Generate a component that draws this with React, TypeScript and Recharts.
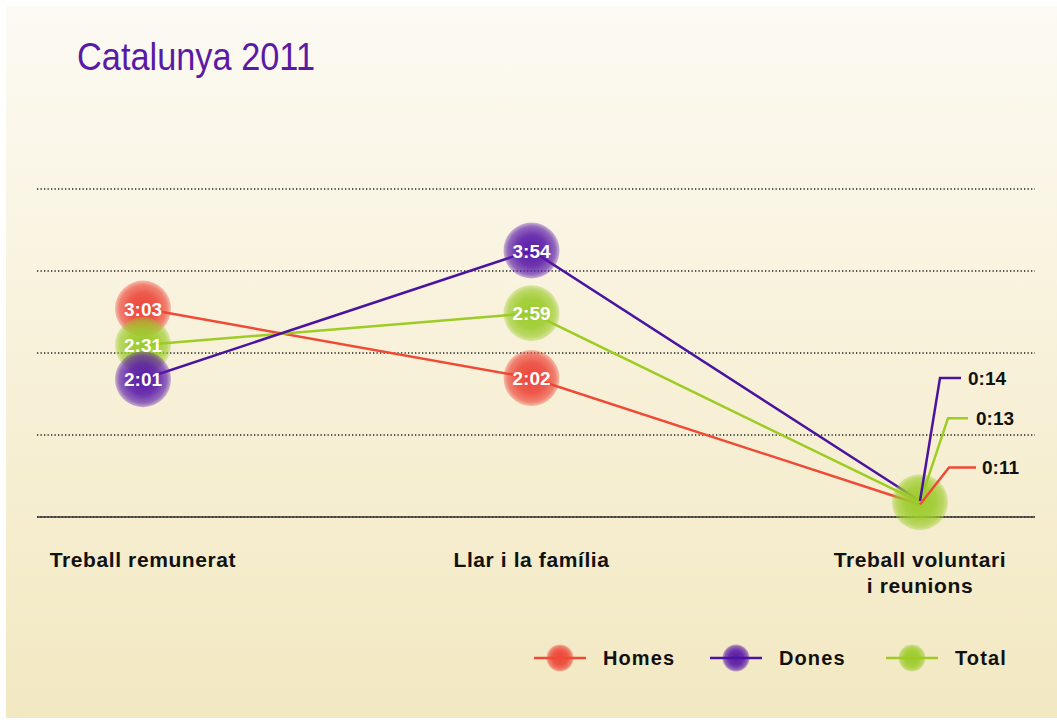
import React from 'react';
import { LineChart, Line, XAxis, YAxis, CartesianGrid, LabelList, Legend } from 'recharts';

const CATEGORIES = ['Treball remunerat', 'Llar i la família', 'Treball voluntari\ni reunions'];
const HOMES = [183, 122, 11];
const DONES = [121, 234, 14];
const TOTAL = [151, 179, 13];
const Y_TICKS = [0, 72, 144, 216, 288];
const SERIES_NAMES = ['Homes', 'Dones', 'Total'];
const TITLE = 'Catalunya 2011';

const COLORS: Record<string, string> = { homes: '#ec4538', dones: '#5a1aa8', total: '#9ccb2b' };
const LINE_COLORS: Record<string, string> = { homes: '#f04a37', dones: '#4b14a0', total: '#9dcc24' };
const LEADER: Record<string, { ey: number; ex: number; hx: number; tx: number }> = {
  dones: { ey: -123, ex: 20, hx: 41, tx: 48 },
  total: { ey: -84, ex: 28, hx: 48, tx: 56 },
  homes: { ey: -37, ex: 29, hx: 56, tx: 62 },
};

const data = CATEGORIES.map((cat, i) => ({ cat, homes: HOMES[i], dones: DONES[i], total: TOTAL[i] }));

const fmt = (m: number) => `${Math.floor(m / 60)}:${String(m % 60).padStart(2, '0')}`;
const FONT = '"Liberation Sans", Arial, Helvetica, sans-serif';

const bubble = (key: string, showLast: boolean) => (props: any) => {
  const { cx, cy, index } = props;
  if (cx == null || cy == null || (!showLast && index === 2)) return <g key={`b-${key}-${index}`} />;
  return <circle key={`b-${key}-${index}`} cx={cx} cy={cy} r={28} fill={`url(#grad-${key})`} />;
};

const labelRenderer = (key: string) => (props: any) => {
  const { x, y, value, index } = props;
  if (x == null || y == null) return null;
  if (index === 2) {
    const l = LEADER[key];
    return (
      <g key={`l-${key}-${index}`}>
        <polyline
          points={`${x},${y} ${x + l.ex},${y + l.ey} ${x + l.hx},${y + l.ey}`}
          fill="none"
          stroke={LINE_COLORS[key]}
          strokeWidth={2.5}
        />
        <text x={x + l.tx} y={y + l.ey + 7} fontFamily={FONT} fontWeight="bold" fontSize={19} fill="#111">
          {fmt(value)}
        </text>
      </g>
    );
  }
  return (
    <text key={`l-${key}-${index}`} x={x} y={y + 7} textAnchor="middle" fontFamily={FONT} fontWeight="bold" fontSize={19} fill="#fff">
      {fmt(value)}
    </text>
  );
};

const renderTick = (props: any) => {
  const { x, y, payload } = props;
  const lines = String(payload.value).split('\n');
  return (
    <text x={x} y={y + 42} textAnchor="middle" fontFamily={FONT} fontWeight="bold" fontSize={21} fill="#111" letterSpacing={0.6}>
      {lines.map((ln, i) => (
        <tspan key={i} x={x} dy={i === 0 ? 0 : 26}>
          {ln}
        </tspan>
      ))}
    </text>
  );
};

const LEGEND_KEYS = ['homes', 'dones', 'total'];

const renderLegend = () => (
  <svg width={500} height={40}>
    <defs>
      {LEGEND_KEYS.map((k) => (
        <radialGradient key={k} id={`lg-${k}`} cx="50%" cy="50%" r="50%">
          <stop offset="0%" stopColor={COLORS[k]} stopOpacity={1} />
          <stop offset="55%" stopColor={COLORS[k]} stopOpacity={0.9} />
          <stop offset="85%" stopColor={COLORS[k]} stopOpacity={0.65} />
          <stop offset="100%" stopColor={COLORS[k]} stopOpacity={0.3} />
        </radialGradient>
      ))}
    </defs>
    {LEGEND_KEYS.map((k, i) => {
      const ox = 4 + i * 176;
      return (
        <g key={k}>
          <circle cx={ox + 26} cy={20} r={13.5} fill={`url(#lg-${k})`} />
          <line x1={ox} y1={20} x2={ox + 52} y2={20} stroke={LINE_COLORS[k]} strokeWidth={2.5} />
          <text x={ox + 69} y={27} fontFamily={FONT} fontWeight="bold" fontSize={20} letterSpacing={1.1} fill="#111">
            {SERIES_NAMES[i]}
          </text>
        </g>
      );
    })}
  </svg>
);

export default function App() {
  return (
    <div style={{ position: 'absolute', left: 0, top: 0, width: 1057, height: 720, background: '#fff' }}>
      <svg width={1057} height={720} style={{ position: 'absolute', left: 0, top: 0 }}>
        <defs>
          <linearGradient id="bg" x1="0" y1="0" x2="0" y2="1">
            <stop offset="0%" stopColor="#fcfaf3" />
            <stop offset="50%" stopColor="#f8f1d9" />
            <stop offset="100%" stopColor="#f2e8c2" />
          </linearGradient>
        </defs>
        <rect x={6} y={6} width={1051} height={712} fill="url(#bg)" />
        <text x={77} y={70} fontFamily={FONT} fontSize={38} fill="#5a1aa6" textLength={238} lengthAdjust="spacingAndGlyphs">
          {TITLE}
        </text>
      </svg>
      <div style={{ position: 'absolute', left: 0, top: 0 }}>
        <LineChart width={1057} height={720} data={data} margin={{ top: 189, right: 22, bottom: 143, left: 37 }}>
          <defs>
            {LEGEND_KEYS.map((k) => (
              <radialGradient key={k} id={`grad-${k}`} cx="50%" cy="50%" r="50%">
                <stop offset="0%" stopColor={COLORS[k]} stopOpacity={1} />
                <stop offset="55%" stopColor={COLORS[k]} stopOpacity={0.88} />
                <stop offset="85%" stopColor={COLORS[k]} stopOpacity={0.65} />
                <stop offset="100%" stopColor={COLORS[k]} stopOpacity={0.3} />
              </radialGradient>
            ))}
          </defs>
          <CartesianGrid vertical={false} stroke="#222" strokeWidth={1.3} strokeDasharray="1.3 2.2" />
          <XAxis
            dataKey="cat"
            height={60}
            padding={{ left: 106, right: 115 }}
            axisLine={{ stroke: '#333', strokeWidth: 1.5 }}
            tickLine={false}
            tick={renderTick}
            interval={0}
          />
          <YAxis hide domain={[0, 288]} ticks={Y_TICKS} />
          <Line dataKey="homes" stroke="none" dot={bubble('homes', false)} activeDot={false} legendType="none" isAnimationActive={false} />
          <Line dataKey="total" stroke="none" dot={bubble('total', true)} activeDot={false} legendType="none" isAnimationActive={false} />
          <Line dataKey="dones" stroke="none" dot={bubble('dones', false)} activeDot={false} legendType="none" isAnimationActive={false} />
          <Line dataKey="homes" name="Homes" stroke={LINE_COLORS.homes} strokeWidth={2.5} dot={false} activeDot={false} isAnimationActive={false} />
          <Line dataKey="total" name="Total" stroke={LINE_COLORS.total} strokeWidth={2.5} dot={false} activeDot={false} isAnimationActive={false} />
          <Line dataKey="dones" name="Dones" stroke={LINE_COLORS.dones} strokeWidth={2.5} dot={false} activeDot={false} isAnimationActive={false} />
          <Line dataKey="homes" stroke="none" dot={false} activeDot={false} legendType="none" isAnimationActive={false}>
            <LabelList dataKey="homes" content={labelRenderer('homes')} />
          </Line>
          <Line dataKey="total" stroke="none" dot={false} activeDot={false} legendType="none" isAnimationActive={false}>
            <LabelList dataKey="total" content={labelRenderer('total')} />
          </Line>
          <Line dataKey="dones" stroke="none" dot={false} activeDot={false} legendType="none" isAnimationActive={false}>
            <LabelList dataKey="dones" content={labelRenderer('dones')} />
          </Line>
          <Legend
            layout="horizontal"
            verticalAlign="middle"
            align="center"
            content={renderLegend}
            wrapperStyle={{ left: 530, top: 638, width: 500, height: 40 }}
          />
        </LineChart>
      </div>
    </div>
  );
}
